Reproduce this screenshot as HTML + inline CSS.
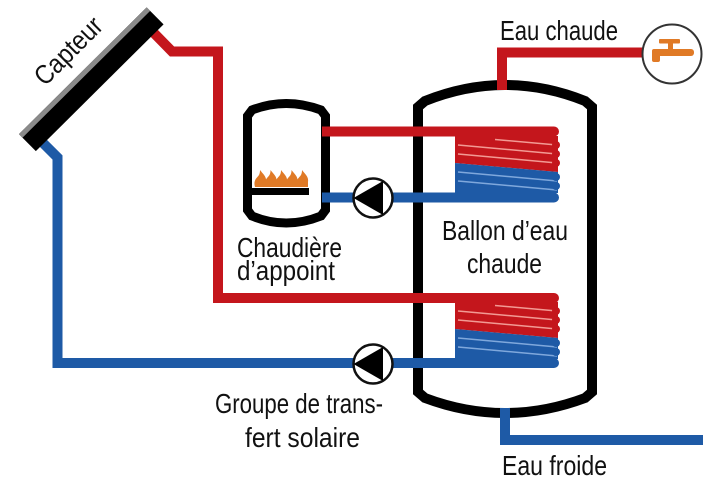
<!DOCTYPE html>
<html><head><meta charset="utf-8"><style>
html,body{margin:0;padding:0;background:#fff;}
svg{display:block;}
text{font-family:"Liberation Sans",sans-serif;font-size:28px;fill:#111;}
</style></head><body>
<svg width="720" height="480" viewBox="0 0 720 480" xmlns="http://www.w3.org/2000/svg">
<rect width="720" height="480" fill="#fff"/>

<!-- Tank -->
<path d="M418,392 V107 L425,101 Q505,69 585,101 L592,107 V392 L585,398 Q505,428 425,398 Z" fill="#fff" stroke="#000" stroke-width="10" stroke-linejoin="miter"/>

<!-- Boiler -->
<path d="M247.5,210 V116 L252,110 Q286,97 321,110 L325.5,116 V210 L321,216 Q286,230 252,216 Z" fill="#fff" stroke="#000" stroke-width="9"/>

<!-- Flames -->
<g fill="#e07a26">
<rect x="255" y="181" width="52" height="6"/>
<path d="M255,187 C253,180 257,178 259,175 C260,173 260,171 260,170 C263,174 267,177 266,182 C266,184 266,186 266,187 Z"/>
<path d="M265.5,187 C263.5,180 267.5,178 269.5,175 C270.5,173 270.5,171 270.5,170 C273.5,174 277.5,177 276.5,182 C276.5,184 276.5,186 276.5,187 Z"/>
<path d="M276,187 C274,180 278,178 280,175 C281,173 281,171 281,170 C284,174 288,177 287,182 C287,184 287,186 287,187 Z"/>
<path d="M286.5,187 C284.5,180 288.5,178 290.5,175 C291.5,173 291.5,171 291.5,170 C294.5,174 298.5,177 297.5,182 C297.5,184 297.5,186 297.5,187 Z"/>
<path d="M297,187 C295,180 299,178 301,175 C302,173 302,171 302,170 C305,174 309,177 308,182 C308,184 308,186 308,187 Z"/>
</g>
<rect x="252" y="188" width="57" height="7" fill="#000"/>

<!-- Pipes red -->
<g fill="none" stroke="#c4161c" stroke-width="10">
<polyline points="148,27 172,51.5 218,51.5 218,298 550,298"/>
<line x1="322" y1="131.5" x2="550" y2="131.5"/>
<polyline points="502,90 502,52.5 644,52.5"/>
</g>
<g fill="none" stroke="#c4161c" stroke-width="10" stroke-linecap="round">
<line x1="540" y1="131.5" x2="554" y2="131.5"/>
<line x1="540" y1="298" x2="554" y2="298"/>
</g>
<!-- Pipes blue -->
<g fill="none" stroke="#1e5aa6" stroke-width="10">
<polyline points="35,135 57.5,157.5 57.5,363 550,363"/>
<line x1="322" y1="197.5" x2="550" y2="197.5"/>
<polyline points="505,408 505,440 703,440"/>
</g>
<g fill="none" stroke="#1e5aa6" stroke-width="10" stroke-linecap="round">
<line x1="540" y1="197.5" x2="554" y2="197.5"/>
<line x1="540" y1="363" x2="554" y2="363"/>
</g>

<!-- Upper coil -->
<g>
<polygon points="455,136 558,136 558,172 455,163" fill="#c4161c"/>
<polygon points="455,163 558,172 558,193 455,193" fill="#1e5aa6"/>
<g stroke="#f29a94" stroke-width="1.5">
<line x1="495" y1="139.5" x2="557" y2="145"/>
<line x1="458" y1="145" x2="557" y2="154"/>
<line x1="458" y1="154" x2="557" y2="163"/>
</g>
<g stroke="#7fa8dc" stroke-width="1.5">
<line x1="458" y1="172" x2="557" y2="181"/>
<line x1="458" y1="181" x2="557" y2="190"/>
</g>
<g fill="#c4161c"><circle cx="556" cy="145" r="4"/><circle cx="556" cy="154" r="4"/><circle cx="556" cy="163" r="4"/></g>
<g fill="#1e5aa6"><circle cx="556" cy="177" r="4"/><circle cx="556" cy="186" r="4"/></g>
</g>
<!-- Lower coil -->
<g transform="translate(0,166)">
<polygon points="455,136 558,136 558,172 455,163" fill="#c4161c"/>
<polygon points="455,163 558,172 558,193 455,193" fill="#1e5aa6"/>
<g stroke="#f29a94" stroke-width="1.5">
<line x1="495" y1="139.5" x2="557" y2="145"/>
<line x1="458" y1="145" x2="557" y2="154"/>
<line x1="458" y1="154" x2="557" y2="163"/>
</g>
<g stroke="#7fa8dc" stroke-width="1.5">
<line x1="458" y1="172" x2="557" y2="181"/>
<line x1="458" y1="181" x2="557" y2="190"/>
</g>
<g fill="#c4161c"><circle cx="556" cy="145" r="4"/><circle cx="556" cy="154" r="4"/><circle cx="556" cy="163" r="4"/></g>
<g fill="#1e5aa6"><circle cx="556" cy="177" r="4"/><circle cx="556" cy="186" r="4"/></g>
</g>

<!-- Pumps -->
<g>
<circle cx="373" cy="198" r="19.5" fill="#fff" stroke="#111" stroke-width="2.5"/>
<polygon points="353.5,198 383,181 383,215" fill="#000"/>
<circle cx="373" cy="364" r="19.5" fill="#fff" stroke="#111" stroke-width="2.5"/>
<polygon points="353.5,364 383,347 383,381" fill="#000"/>
</g>

<!-- Tap -->
<circle cx="672" cy="54" r="29.5" fill="#fff" stroke="#333" stroke-width="2"/>
<g fill="#e07a26">
<rect x="659" y="39" width="21" height="4.5" rx="1"/>
<rect x="668" y="42" width="5" height="8"/>
<rect x="652" y="49" width="42" height="7" rx="3"/>
<rect x="652" y="49" width="8" height="13" rx="2"/>
</g>

<!-- Collector -->
<g transform="translate(91.25,79.25) rotate(-44.8)">
<rect x="-90" y="-12" width="180" height="24" fill="#000"/>
<rect x="-90" y="-12" width="180" height="5" fill="#8a8a8a"/>
</g>

<!-- Labels -->
<text transform="translate(45,87) rotate(-45)" x="0" y="0" textLength="84" lengthAdjust="spacingAndGlyphs" style="font-size:27px">Capteur</text>
<text x="500" y="40" textLength="118" lengthAdjust="spacingAndGlyphs">Eau chaude</text>
<text x="442" y="240" textLength="126" lengthAdjust="spacingAndGlyphs">Ballon d’eau</text>
<text x="467" y="273" textLength="75" lengthAdjust="spacingAndGlyphs">chaude</text>
<text x="237" y="257" textLength="105" lengthAdjust="spacingAndGlyphs">Chaudière</text>
<text x="237" y="280" textLength="98" lengthAdjust="spacingAndGlyphs">d’appoint</text>
<text x="215" y="413" textLength="168" lengthAdjust="spacingAndGlyphs">Groupe de trans-</text>
<text x="245" y="447" textLength="115" lengthAdjust="spacingAndGlyphs">fert solaire</text>
<text x="502" y="475" textLength="105" lengthAdjust="spacingAndGlyphs">Eau froide</text>
</svg>
</body></html>
